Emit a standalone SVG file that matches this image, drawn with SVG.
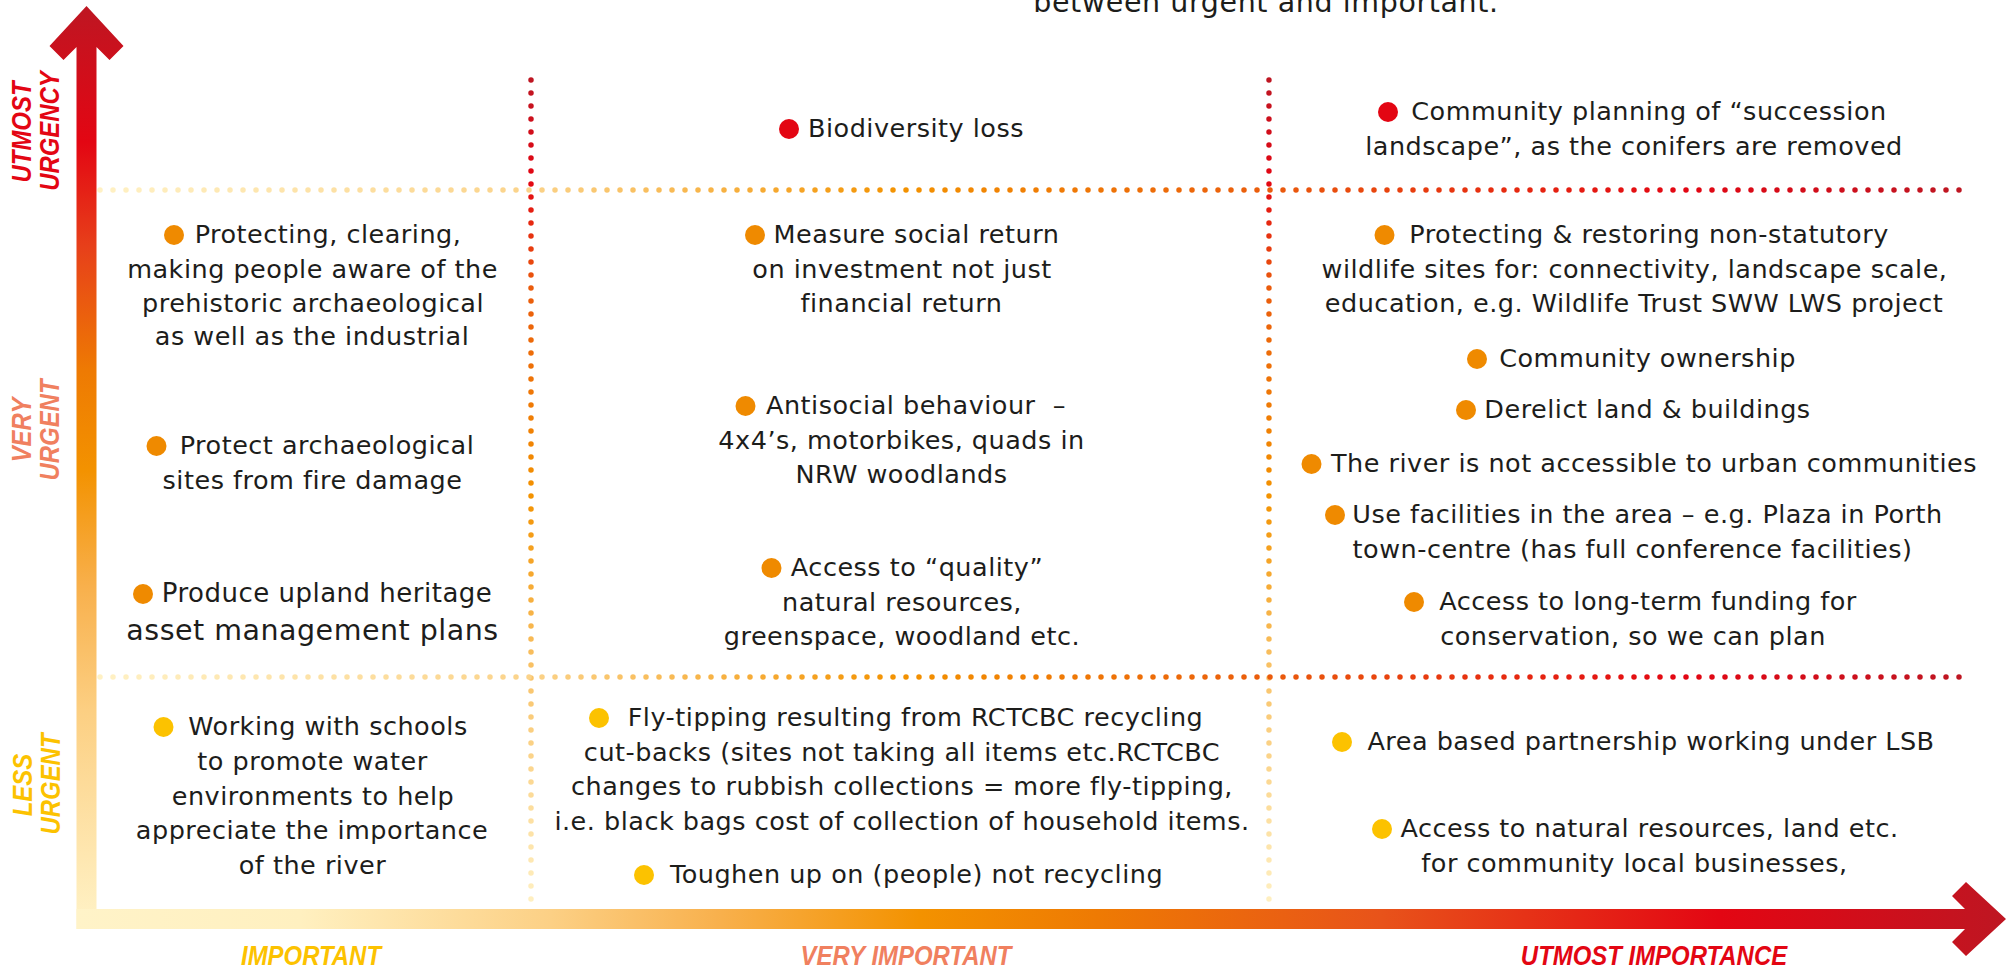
<svg xmlns="http://www.w3.org/2000/svg" width="2010" height="968" viewBox="0 0 2010 968">
<defs>
<linearGradient id="gV" gradientUnits="userSpaceOnUse" x1="0" y1="930" x2="0" y2="6">
<stop offset="0" stop-color="#fff3c8"/>
<stop offset="0.238" stop-color="#fccf82"/>
<stop offset="0.372" stop-color="#f8b04c"/>
<stop offset="0.498" stop-color="#f39200"/>
<stop offset="0.606" stop-color="#ee7a03"/>
<stop offset="0.739" stop-color="#e7401a"/>
<stop offset="0.853" stop-color="#e30613"/>
<stop offset="1" stop-color="#be1622"/>
</linearGradient>
<linearGradient id="gH" gradientUnits="userSpaceOnUse" x1="76" y1="0" x2="2006" y2="0">
<stop offset="0" stop-color="#fff3c8"/>
<stop offset="0.116" stop-color="#fff0c0"/>
<stop offset="0.246" stop-color="#fcd085"/>
<stop offset="0.334" stop-color="#f8b04c"/>
<stop offset="0.437" stop-color="#f39200"/>
<stop offset="0.53" stop-color="#ee7a03"/>
<stop offset="0.676" stop-color="#e8531a"/>
<stop offset="0.852" stop-color="#e30613"/>
<stop offset="1" stop-color="#be1622"/>
</linearGradient>
<linearGradient id="gDV" gradientUnits="userSpaceOnUse" x1="0" y1="909" x2="0" y2="80">
<stop offset="0" stop-color="#fff1c4"/>
<stop offset="0.28" stop-color="#f9c46b"/>
<stop offset="0.5" stop-color="#f39200"/>
<stop offset="0.75" stop-color="#ea5b0c"/>
<stop offset="0.88" stop-color="#e30613"/>
<stop offset="1" stop-color="#be1622"/>
</linearGradient>
<linearGradient id="gDH" gradientUnits="userSpaceOnUse" x1="100" y1="0" x2="1962" y2="0">
<stop offset="0" stop-color="#fff1c4"/>
<stop offset="0.23" stop-color="#fbd38a"/>
<stop offset="0.43" stop-color="#f39200"/>
<stop offset="0.63" stop-color="#ea5b0c"/>
<stop offset="0.85" stop-color="#e30613"/>
<stop offset="1" stop-color="#be1622"/>
</linearGradient>
</defs>
<style>
.t { font-family: "DejaVu Sans", "Liberation Sans", sans-serif; font-size: 25.5px; letter-spacing: 0.5px; fill: #1d1d1b; text-anchor: middle; }
.big { font-size: 28.5px; }
.title { font-family: "DejaVu Sans", "Liberation Sans", sans-serif; font-size: 28.5px; letter-spacing: 0.6px; fill: #1d1d1b; text-anchor: middle; }
.ax { font-family: "Liberation Sans", "DejaVu Sans", sans-serif; font-weight: 700; font-style: italic; font-size: 28px; text-anchor: middle; }
.red { fill: #e30613; }
.org { fill: #ef8a00; }
.yel { fill: #fcc200; }
.sal { fill: #f0805f; }
.dv { fill: none; stroke: url(#gDV); stroke-width: 5.5; stroke-linecap: round; stroke-dasharray: 0 13; }
.dh { fill: none; stroke: url(#gDH); stroke-width: 5.5; stroke-linecap: round; stroke-dasharray: 0 13; }
</style>
<rect width="2010" height="968" fill="#ffffff"/>

<g id="title">
<text class="title" x="1266" y="12">between urgent and important.</text>
</g>

<g id="connectors">
<g id="grid">
<line class="dv" x1="531" y1="80" x2="531" y2="906"/>
<line class="dv" x1="1269" y1="80" x2="1269" y2="906"/>
<line class="dh" x1="100" y1="190" x2="1962" y2="190"/>
<line class="dh" x1="100" y1="677" x2="1962" y2="677"/>
</g>
<g id="axes">
<polygon fill="url(#gV)" points="86.5,6 123.5,46 109.5,60 96.5,47 96.5,929 76.5,929 76.5,47 63.5,60 49.5,46"/>
<polygon fill="url(#gH)" points="76.5,909 1965,909 1952,896 1966,882 2006,919 1966,956 1952,942 1965,929 76.5,929"/>
</g>
</g>

<g id="axis-labels">
<text class="ax red" transform="translate(31,132) rotate(-90) scale(0.855,1)">UTMOST</text>
<text class="ax red" transform="translate(59,131) rotate(-90) scale(0.855,1)">URGENCY</text>
<text class="ax sal" transform="translate(31,430) rotate(-90) scale(0.855,1)">VERY</text>
<text class="ax sal" transform="translate(59,430) rotate(-90) scale(0.855,1)">URGENT</text>
<text class="ax yel" transform="translate(32,785) rotate(-90) scale(0.855,1)">LESS</text>
<text class="ax yel" transform="translate(60,784) rotate(-90) scale(0.855,1)">URGENT</text>
<text class="ax yel" transform="translate(311,965) scale(0.855,1)">IMPORTANT</text>
<text class="ax sal" transform="translate(906,965) scale(0.855,1)">VERY IMPORTANT</text>
<text class="ax red" transform="translate(1654,965) scale(0.855,1)">UTMOST IMPORTANCE</text>
</g>

<g id="n-protecting">
<circle class="org" cx="174" cy="235" r="10"/>
<text class="t"><tspan x="328" y="243">Protecting, clearing,</tspan><tspan x="312.5" y="278">making people aware of the</tspan><tspan x="313" y="312">prehistoric archaeological</tspan><tspan x="312" y="345">as well as the industrial</tspan></text>
</g>
<g id="n-protect-arch">
<circle class="org" cx="156.5" cy="446" r="10"/>
<text class="t"><tspan x="327" y="454">Protect archaeological</tspan><tspan x="312.5" y="489">sites from fire damage</tspan></text>
</g>
<g id="n-produce">
<circle class="org" cx="143" cy="594" r="10"/>
<text class="t"><tspan x="327" y="602" style="font-size:26px">Produce upland heritage</tspan><tspan class="big" x="312.5" y="640">asset management plans</tspan></text>
</g>
<g id="n-schools">
<circle class="yel" cx="163.5" cy="727" r="10"/>
<text class="t"><tspan x="328" y="735">Working with schools</tspan><tspan x="312.5" y="770">to promote water</tspan><tspan x="313" y="805">environments to help</tspan><tspan x="312" y="839">appreciate the importance</tspan><tspan x="312.5" y="874">of the river</tspan></text>
</g>

<g id="n-biodiversity">
<circle class="red" cx="789" cy="129" r="10"/>
<text class="t" x="916" y="137">Biodiversity loss</text>
</g>
<g id="n-measure">
<circle class="org" cx="755" cy="235" r="10"/>
<text class="t"><tspan x="916.5" y="243">Measure social return</tspan><tspan x="902" y="278">on investment not just</tspan><tspan x="901.5" y="312">financial return</tspan></text>
</g>
<g id="n-antisocial">
<circle class="org" cx="745.5" cy="406" r="10"/>
<text class="t"><tspan x="916" y="414">Antisocial behaviour&#160; –</tspan><tspan x="901.5" y="449">4x4’s, motorbikes, quads in</tspan><tspan x="901.5" y="483">NRW woodlands</tspan></text>
</g>
<g id="n-access-quality">
<circle class="org" cx="771.5" cy="568" r="10"/>
<text class="t"><tspan x="917" y="576">Access to “quality”</tspan><tspan x="902" y="611">natural resources,</tspan><tspan x="902" y="645">greenspace, woodland etc.</tspan></text>
</g>
<g id="n-flytipping">
<circle class="yel" cx="599" cy="718" r="10"/>
<text class="t"><tspan x="915.5" y="726">Fly-tipping resulting from RCTCBC recycling</tspan><tspan x="902" y="761">cut-backs (sites not taking all items etc.RCTCBC</tspan><tspan x="902" y="795">changes to rubbish collections = more fly-tipping,</tspan><tspan x="902" y="830">i.e. black bags cost of collection of household items.</tspan></text>
</g>
<g id="n-toughen">
<circle class="yel" cx="644" cy="875" r="10"/>
<text class="t" x="916.5" y="883">Toughen up on (people) not recycling</text>
</g>

<g id="n-succession">
<circle class="red" cx="1388" cy="112" r="10"/>
<text class="t"><tspan x="1649" y="120">Community planning of “succession</tspan><tspan x="1634" y="155">landscape”, as the conifers are removed</tspan></text>
</g>
<g id="n-wildlife-sites">
<circle class="org" cx="1384.5" cy="235" r="10"/>
<text class="t"><tspan x="1649" y="243">Protecting &amp; restoring non-statutory</tspan><tspan x="1634.5" y="278">wildlife sites for: connectivity, landscape scale,</tspan><tspan x="1634" y="312">education, e.g. Wildlife Trust SWW LWS project</tspan></text>
</g>
<g id="n-ownership">
<circle class="org" cx="1477" cy="359" r="10"/>
<text class="t" x="1647.5" y="367">Community ownership</text>
</g>
<g id="n-derelict">
<circle class="org" cx="1466" cy="410" r="10"/>
<text class="t" x="1647.5" y="418">Derelict land &amp; buildings</text>
</g>
<g id="n-river">
<circle class="org" cx="1311.5" cy="464" r="10"/>
<text class="t" x="1654" y="472">The river is not accessible to urban communities</text>
</g>
<g id="n-facilities">
<circle class="org" cx="1335" cy="515" r="10"/>
<text class="t"><tspan x="1647.5" y="523">Use facilities in the area – e.g. Plaza in Porth</tspan><tspan x="1632.5" y="558">town-centre (has full conference facilities)</tspan></text>
</g>
<g id="n-funding">
<circle class="org" cx="1414" cy="602" r="10"/>
<text class="t"><tspan x="1648" y="610">Access to long-term funding for</tspan><tspan x="1633" y="645">conservation, so we can plan</tspan></text>
</g>
<g id="n-partnership">
<circle class="yel" cx="1342" cy="742" r="10"/>
<text class="t" x="1651" y="750">Area based partnership working under LSB</text>
</g>
<g id="n-access-land">
<circle class="yel" cx="1382" cy="829" r="10"/>
<text class="t"><tspan x="1649.5" y="837">Access to natural resources, land etc.</tspan><tspan x="1634.5" y="872">for community local businesses,</tspan></text>
</g>
</svg>
